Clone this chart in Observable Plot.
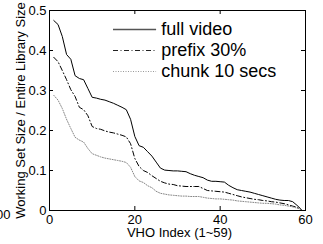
<!DOCTYPE html>
<html>
<head>
<meta charset="utf-8">
<script src="https://cdn.jsdelivr.net/npm/d3@7"></script>
<script src="https://cdn.jsdelivr.net/npm/@observablehq/plot@0.6"></script>
<style>
  html, body { margin: 0; padding: 0; background: white; }
  g[aria-label="legend-text"] text { letter-spacing: 0.4px; }
</style>
</head>
<body>
<div id="chart"></div>
<script>
// VHO index 1..59
const vhoIndex = d3.range(1, 60);

const fullVideo = [
  0.475, 0.465, 0.435, 0.39, 0.378, 0.337, 0.33, 0.327, 0.305, 0.283,
  0.281, 0.278, 0.276, 0.272, 0.268, 0.263, 0.258, 0.252, 0.228, 0.185,
  0.162, 0.158, 0.147, 0.136, 0.121, 0.106, 0.101, 0.1, 0.099, 0.099,
  0.098, 0.097, 0.092, 0.088, 0.085, 0.082, 0.076, 0.073, 0.073, 0.072,
  0.071, 0.063, 0.057, 0.052, 0.05, 0.048, 0.046, 0.043, 0.04, 0.037,
  0.034, 0.031, 0.028, 0.026, 0.025, 0.025, 0.022, 0.013, 0.003
];

const prefix30 = [
  0.383, 0.372, 0.35, 0.327, 0.302, 0.285, 0.258, 0.252, 0.237, 0.21,
  0.205, 0.203, 0.199, 0.196, 0.194, 0.191, 0.188, 0.184, 0.167, 0.13,
  0.11, 0.1, 0.095, 0.087, 0.08, 0.073, 0.069, 0.066, 0.065, 0.062,
  0.061, 0.06, 0.06, 0.06, 0.06, 0.055, 0.05, 0.049, 0.048, 0.047,
  0.046, 0.043, 0.04, 0.037, 0.034, 0.032, 0.03, 0.028, 0.027, 0.025,
  0.024, 0.022, 0.021, 0.019, 0.017, 0.014, 0.011, 0.008, 0.002
];

const chunk10 = [
  0.288, 0.276, 0.255, 0.228, 0.205, 0.183, 0.176, 0.171, 0.155, 0.142,
  0.138, 0.134, 0.131, 0.129, 0.127, 0.125, 0.123, 0.12, 0.108, 0.085,
  0.074, 0.07, 0.062, 0.057, 0.048, 0.043, 0.041, 0.039, 0.038, 0.037,
  0.036, 0.036, 0.035, 0.035, 0.035, 0.033, 0.031, 0.03, 0.029, 0.029,
  0.028, 0.027, 0.026, 0.024, 0.023, 0.022, 0.021, 0.02, 0.019, 0.018,
  0.018, 0.017, 0.016, 0.014, 0.013, 0.011, 0.009, 0.006, 0.003
];

const seriesNames = ["full video", "prefix 30%", "chunk 10 secs"];
const xTicks = [0, 20, 40, 60];
const yTicks = [0, 0.1, 0.2, 0.3, 0.4, 0.5];
const xLabel = "VHO Index (1~59)";
const yLabel = "Working Set Size / Entire Library Size";

// build tables
const rows = vhoIndex.map((v, i) => ({idx: v, full: fullVideo[i], prefix: prefix30[i], chunk: chunk10[i]}));

const styles = [
  {stroke: "black", strokeWidth: 1, dash: null, legendStroke: "#555", legendWidth: 1.6},
  {stroke: "black", strokeWidth: 1, dash: "5,2.5,1,2.5", legendStroke: "#222", legendWidth: 1},
  {stroke: "#888", strokeWidth: 1, dash: "1,1.5", legendStroke: "#999", legendWidth: 1}
];
const keys = ["full", "prefix", "chunk"];

// legend placement (data coords)
const legX1 = 15, legX2 = 25.1, legTextX = 26.2;
const legY0 = 0.4525, legStep = 0.0525;
const legend = seriesNames.map((name, i) => ({name, y: legY0 - i * legStep}));

const tickLenY = 0.01, tickLenX = 0.94;

const marks = [
  Plot.frame({stroke: "black", strokeWidth: 1}),
  Plot.axisX(xTicks, {tickSize: 0, tickPadding: 4, label: null, fontSize: 13}),
  Plot.axisY(yTicks, {tickSize: 0, tickPadding: 3, label: null, fontSize: 13,
    tickFormat: d => d === 0 ? "0" : d3.format(".1f")(d)}),
  Plot.ruleX(xTicks, {x: d => d, y1: 0, y2: tickLenY, stroke: "black"}),
  Plot.ruleX(xTicks, {x: d => d, y1: 0.5, y2: 0.5 - tickLenY, stroke: "black"}),
  Plot.ruleY(yTicks, {y: d => d, x1: 0, x2: tickLenX, stroke: "black"}),
  Plot.ruleY(yTicks, {y: d => d, x1: 60, x2: 60 - tickLenX, stroke: "black"})
];

keys.forEach((k, i) => {
  const s = styles[i];
  marks.push(Plot.line(rows, {x: "idx", y: k, stroke: s.stroke, strokeWidth: s.strokeWidth,
    strokeDasharray: s.dash || undefined}));
  marks.push(Plot.ruleY([legend[i]], {y: "y", x1: legX1, x2: legX2, stroke: s.legendStroke,
    strokeWidth: s.legendWidth, strokeDasharray: s.dash || undefined}));
});

marks.push(Plot.text(legend, {x: () => legTextX, y: "y", text: "name", textAnchor: "start",
  lineAnchor: "middle", fontSize: 18, fill: "black", ariaLabel: "legend-text"}));

// axis titles
marks.push(Plot.text([xLabel], {frameAnchor: "bottom", text: d => d, textAnchor: "middle",
  lineAnchor: "middle", dy: 22, dx: 2, fontSize: 13, fill: "black"}));
marks.push(Plot.text([yLabel], {frameAnchor: "left", text: d => d, textAnchor: "middle",
  lineAnchor: "middle", rotate: -90, dx: -29, fontSize: 13, fill: "black"}));
// clipped tick label from neighbouring panel
marks.push(Plot.text(["00"], {frameAnchor: "bottom-left", text: d => d, textAnchor: "end",
  lineAnchor: "middle", dx: -39, dy: 4, fontSize: 13, fill: "black"}));

const chart = Plot.plot({
  width: 323,
  height: 244,
  marginLeft: 49,
  marginRight: 18,
  marginTop: 10,
  marginBottom: 34,
  style: {fontFamily: "'Liberation Sans', Arial, Helvetica, sans-serif", fontSize: "13px", color: "black", background: "white"},
  x: {domain: [0, 60]},
  y: {domain: [0, 0.5]},
  marks
});
document.getElementById("chart").appendChild(chart);
</script>
</body>
</html>
